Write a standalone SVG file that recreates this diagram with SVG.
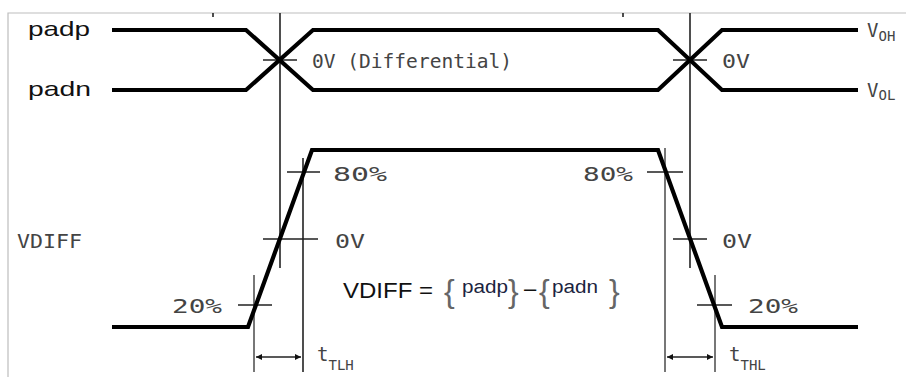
<svg xmlns="http://www.w3.org/2000/svg" width="906" height="377" viewBox="0 0 906 377">
  <defs>
    <style>
      .sig{fill:none;stroke:#000;stroke-width:4.2;stroke-linejoin:miter}
      .thin{fill:none;stroke:#222;stroke-width:1.6}
      .grey{fill:none;stroke:#777;stroke-width:2}
      .frame{fill:none;stroke:#bdbdbd;stroke-width:1.2}
      .cad{font-family:"DejaVu Sans Mono","Liberation Mono",monospace;font-size:19px;fill:#444}
      .sub{font-family:"DejaVu Sans Mono","Liberation Mono",monospace;font-size:14px;fill:#444}
      .lbl{font-family:"Liberation Sans",Arial,sans-serif;font-size:21px;fill:#111}
      .frm{font-family:"Liberation Sans",Arial,sans-serif;font-size:22px;fill:#111}
      .pad{font-family:"Liberation Sans",Arial,sans-serif;font-size:18px;fill:#1b2440}
      .brace{font-family:"Liberation Sans",Arial,sans-serif;font-size:32px;fill:#666}
    </style>
    <marker id="ah" viewBox="0 0 10 10" refX="10" refY="5" markerWidth="9" markerHeight="6" markerUnits="userSpaceOnUse" orient="auto-start-reverse">
      <path d="M0,0 L10,5 L0,10 z" fill="#111"/>
    </marker>
  </defs>
  <rect width="906" height="377" fill="#fff"/>
  <g id="frame">
    <path class="frame" d="M8,377 V13 H906"/>
    <path class="thin" d="M213,13 V17 M623,13 V17"/>
  </g>

  <g id="guides">
    <path class="thin" d="M280,13 V268"/>
    <path class="thin" d="M690,13 V268"/>
    <path class="thin" d="M303,158 V372"/>
    <path class="grey" d="M254,275 V372" stroke-width="1.6"/>
    <path class="grey" d="M665,148 V372"/>
    <path class="grey" d="M715,275 V372" stroke-width="1.6"/>
    <path class="thin" d="M263,60 H297 M673,60 H707"/>
    <path class="thin" d="M287,172 H320 M647,172 H683"/>
    <path class="thin" d="M263,239 H318 M673,239 H707"/>
    <path class="thin" d="M238,305 H272 M697,305 H732"/>
  </g>

  <g id="padp">
    <text class="lbl" x="28" y="36" textLength="62" lengthAdjust="spacingAndGlyphs">padp</text>
    <path class="sig" d="M112,30 H246 L313,90 H658 L722,30 H858"/>
  </g>
  <g id="padn">
    <text class="lbl" x="28" y="96" textLength="63" lengthAdjust="spacingAndGlyphs">padn</text>
    <path class="sig" d="M112,90 H246 L313,30 H658 L722,90 H858"/>
  </g>
  <g id="top-labels">
    <text class="cad" x="312" y="68" textLength="200" lengthAdjust="spacingAndGlyphs">0V (Differential)</text>
    <text class="cad" x="722" y="68" textLength="28" lengthAdjust="spacingAndGlyphs">0V</text>
    <text class="cad" x="867" y="37" font-size="21">V<tspan class="sub" dy="4">OH</tspan></text>
    <text class="cad" x="867" y="97" font-size="21">V<tspan class="sub" dy="3">OL</tspan></text>
  </g>

  <g id="vdiff">
    <text class="cad" x="17" y="248" textLength="65" lengthAdjust="spacingAndGlyphs">VDIFF</text>
    <path class="sig" d="M112,327 H248 L312,150 H658 L722,327 H858"/>
  </g>
  <g id="level-labels">
    <text class="cad" x="333" y="181" textLength="54" lengthAdjust="spacingAndGlyphs">80%</text>
    <text class="cad" x="335" y="248" textLength="30" lengthAdjust="spacingAndGlyphs">0V</text>
    <text class="cad" x="172" y="313" textLength="50" lengthAdjust="spacingAndGlyphs">20%</text>
    <text class="cad" x="583" y="181" textLength="50" lengthAdjust="spacingAndGlyphs">80%</text>
    <text class="cad" x="722" y="248" textLength="30" lengthAdjust="spacingAndGlyphs">0V</text>
    <text class="cad" x="748" y="313" textLength="50" lengthAdjust="spacingAndGlyphs">20%</text>
  </g>

  <g id="formula">
    <text class="frm" x="343" y="298" textLength="90" lengthAdjust="spacingAndGlyphs">VDIFF =</text>
    <text class="brace" x="444" y="302">{</text>
    <text class="pad" x="462" y="293" textLength="46" lengthAdjust="spacingAndGlyphs">padp</text>
    <text class="brace" x="508" y="302">}</text>
    <text class="frm" x="524" y="296" fill="#555">–</text>
    <text class="brace" x="539" y="302">{</text>
    <text class="pad" x="552" y="293" textLength="46" lengthAdjust="spacingAndGlyphs">padn</text>
    <text class="brace" x="609" y="302">}</text>
  </g>

  <g id="connectors">
    <line class="thin" x1="256" y1="357" x2="301" y2="357" marker-start="url(#ah)" marker-end="url(#ah)"/>
    <line class="thin" x1="667" y1="357" x2="713" y2="357" marker-start="url(#ah)" marker-end="url(#ah)"/>
  </g>
  <g id="timing-labels">
    <text class="cad" x="317" y="361" font-size="20">t<tspan class="sub" dy="9">TLH</tspan></text>
    <text class="cad" x="729" y="361" font-size="20">t<tspan class="sub" dy="9">THL</tspan></text>
  </g>
</svg>
